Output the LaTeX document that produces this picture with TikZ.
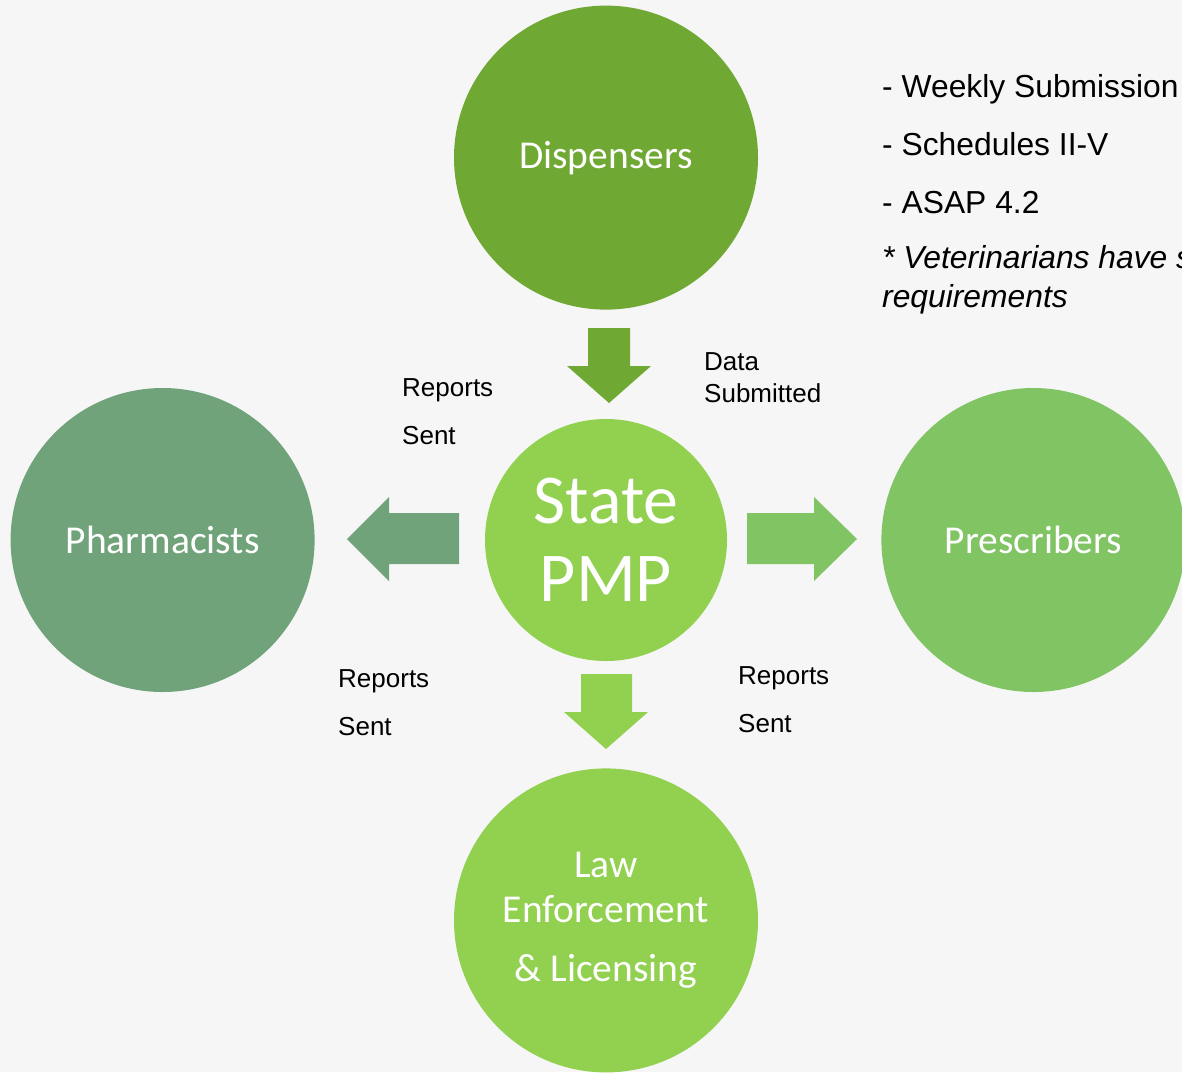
\documentclass[tikz,border=0pt]{standalone}
\usepackage{fontspec}
\setmainfont{Liberation Sans}
\newfontfamily\calibri{Carlito}
\usetikzlibrary{positioning}

\definecolor{dispgreen}{HTML}{6FA832}
\definecolor{pmpgreen}{HTML}{92D050}
\definecolor{pharmgreen}{HTML}{70A379}
\definecolor{prescgreen}{HTML}{80C464}
\definecolor{bggray}{HTML}{F6F6F6}

\begin{document}
\begin{tikzpicture}[x=1pt,y=-1pt,
  main node/.style={circle,minimum size=304pt,inner sep=0pt,text=white,align=center,font=\calibri\fontsize{39.5}{45}\selectfont},
  sent note/.style={anchor=west,inner sep=0pt,align=left,font=\fontsize{26}{48}\selectfont}]

  \useasboundingbox (0,0) rectangle (1182,1072);
  \fill[bggray] (0,0) rectangle (1182,1072);
  \clip (0,0) rectangle (1182,1072);

  \node[main node,fill=pmpgreen,minimum size=242pt,font=\calibri\fontsize{70}{78}\selectfont] (pmp) at (606,540) {State\\PMP};
  \node[main node,fill=dispgreen] (disp) [above=109pt of pmp] {\raisebox{-3pt}{Dispensers}};
  \node[main node,fill=pharmgreen] (pharm) [left=170pt of pmp] {Pharmacists};
  \node[main node,fill=prescgreen] (presc) [right=154pt of pmp] {Prescribers};
  \node[main node,fill=pmpgreen] (law) [below=107pt of pmp] {Law\\Enforcement\\[14pt]\& Licensing};

  % block arrows
  \fill[dispgreen] (588,328) -- (630,328) -- (630,366) -- (651,366) -- (609,403) -- (567,366) -- (588,366) -- cycle;
  \fill[pharmgreen] (459,513) -- (389,513) -- (389,497) -- (347,539) -- (389,581) -- (389,564) -- (459,564) -- cycle;
  \fill[prescgreen] (747,513) -- (814,513) -- (814,497) -- (857,539) -- (814,581) -- (814,564) -- (747,564) -- cycle;
  \fill[pmpgreen] (581,674) -- (632,674) -- (632,712) -- (648,712) -- (606,749) -- (564,712) -- (581,712) -- cycle;

  \node[sent note,font=\fontsize{26}{32}\selectfont] (data) at (704,378) {Data\\Submitted};
  \node[sent note] (sent1) at (402,412) {Reports\\Sent};
  \node[sent note] (sent2) at (338,703) {Reports\\Sent};
  \node[sent note] (sent3) at (738,700) {Reports\\Sent};

  \node[anchor=north west,inner sep=0pt,align=left,font=\fontsize{31.8}{31}\selectfont] (reqs) at (882,74)
    {- Weekly Submission\\[27pt]- Schedules II-V\\[27pt]- ASAP 4.2\\[24.6pt]\textit{* Veterinarians have separate}\\[8pt]\textit{requirements}};
\end{tikzpicture}
\end{document}
